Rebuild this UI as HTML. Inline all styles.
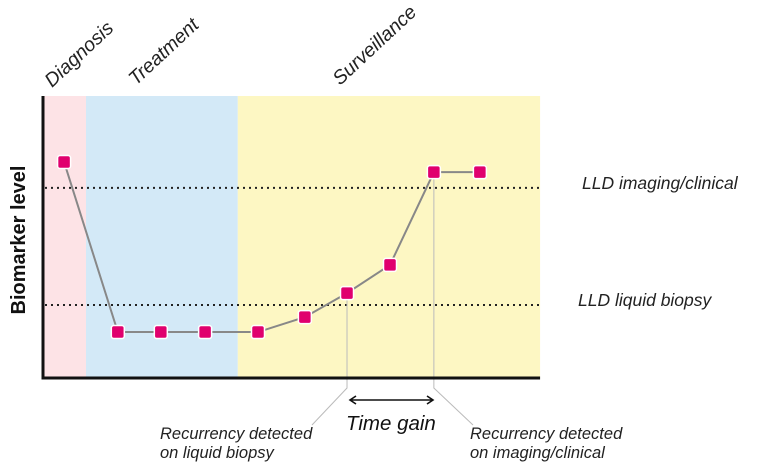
<!DOCTYPE html>
<html><head><meta charset="utf-8">
<style>
html,body{margin:0;padding:0;background:#fff;}
svg{display:block;font-family:"Liberation Sans",sans-serif;}
</style></head>
<body>
<svg id="chart" width="772" height="468" viewBox="0 0 772 468">
  <g id="bg"></g>
  <g id="lines"></g>
  <g id="marks"></g>
  <g id="labels"></g>
</svg>
<script>
const times = [0.49, 1.74, 2.74, 3.77, 5.0, 6.09, 7.07, 8.07, 9.09, 10.16];
const values = [76.6, 16.3, 16.3, 16.3, 16.3, 21.6, 30.1, 40.1, 73.0, 73.0];
const phaseNames = ["Diagnosis", "Treatment", "Surveillance"];
const phaseStarts = [0, 1.0, 4.53];
const phaseEnds = [1.0, 4.53, 11.56];
const thresholdNames = ["LLD imaging/clinical", "LLD liquid biopsy"];
const thresholdValues = [67.4, 25.9];

const NS = "http://www.w3.org/2000/svg";
const X0 = 43, Y0 = 378;
function xScale(t){ return X0 + t * 43; }
function yScale(v){ return Y0 - v * 2.82; }
function mk(tag, attrs, parent, text){
  const e = document.createElementNS(NS, tag);
  for (const k in attrs) e.setAttribute(k, attrs[k]);
  if (text !== undefined) e.textContent = text;
  parent.appendChild(e);
  return e;
}
const bg = document.getElementById('bg');
const lines = document.getElementById('lines');
const marks = document.getElementById('marks');
const labels = document.getElementById('labels');
const colors = ["#fde3e6", "#d3e9f7", "#fdf7c3"];
const labelPos = [[52,88],[136,86],[340,86]];
phaseNames.forEach((n,i)=>{
  const r = mk('rect',{x:xScale(phaseStarts[i]), y:yScale(100), width:xScale(phaseEnds[i])-xScale(phaseStarts[i]), height:Y0-yScale(100), fill:colors[i]}, bg);
  
  
  const t = mk('text',{x:labelPos[i][0], y:labelPos[i][1], 'font-size':19.5, 'font-style':'italic', fill:'#222', transform:`rotate(-43 ${labelPos[i][0]} ${labelPos[i][1]})`}, labels, n);
  
  
});
const tlx = [582, 578];
thresholdValues.forEach((v,i)=>{
  const l = mk('line',{x1:X0+2, x2:xScale(11.56), y1:yScale(v), y2:yScale(v), stroke:'#222', 'stroke-width':2, 'stroke-dasharray':'2 4'}, lines);
  
  
  const t = mk('text',{x:tlx[i], y:yScale(v)+1, 'font-size':17.5, 'font-style':'italic', fill:'#222'}, labels, thresholdNames[i]);
  
  
});
const lx1 = xScale(times[6]), lx2 = xScale(times[8]);
const ld1 = mk('polyline',{points:`${lx1},${yScale(values[6])} ${lx1},388 312,425`, fill:'none', stroke:'#bbb', 'stroke-width':1}, lines);


const ld2 = mk('polyline',{points:`${lx2},${yScale(values[8])} ${lx2},388 473,425`, fill:'none', stroke:'#bbb', 'stroke-width':1}, lines);


const pl = mk('polyline',{points:times.map((t,i)=>xScale(t)+','+yScale(values[i])).join(' '), fill:'none', stroke:'#888', 'stroke-width':2}, lines);


times.forEach((t,i)=>{
  const r = mk('rect',{x:xScale(t)-6.5, y:yScale(values[i])-6.5, width:13, height:13, rx:2.5, fill:'#e0006e', stroke:'#fff', 'stroke-width':1.5}, marks);
  
  
});
const ax = mk('polyline',{points:`${X0},96 ${X0},${Y0} ${xScale(11.56)},${Y0}`, fill:'none', stroke:'#111', 'stroke-width':3}, marks);


const yt = mk('text',{x:0, y:0, 'font-size':20, 'font-weight':'bold', fill:'#111', 'text-anchor':'middle', transform:'translate(25,240) rotate(-90)'}, labels, 'Biomarker level');


const ar = mk('path',{d:'M350,400 L433,400 M356,396 L350,400 L356,404 M427,396 L433,400 L427,404', fill:'none', stroke:'#111', 'stroke-width':1.6}, labels);


const tg = mk('text',{x:346, y:430, 'font-size':20.5, 'font-style':'italic', fill:'#111'}, labels, 'Time gain');


[[160,'Recurrency detected','on liquid biopsy','liquid-biopsy-note'],[470,'Recurrency detected','on imaging/clinical','imaging-note']].forEach(a=>{
  const t = mk('text',{x:a[0], y:439, 'font-size':16.5, 'font-style':'italic', fill:'#222'}, labels);
  
  
  mk('tspan',{x:a[0], dy:0}, t, a[1]);
  mk('tspan',{x:a[0], dy:19}, t, a[2]);
});
</script>
</body></html>
